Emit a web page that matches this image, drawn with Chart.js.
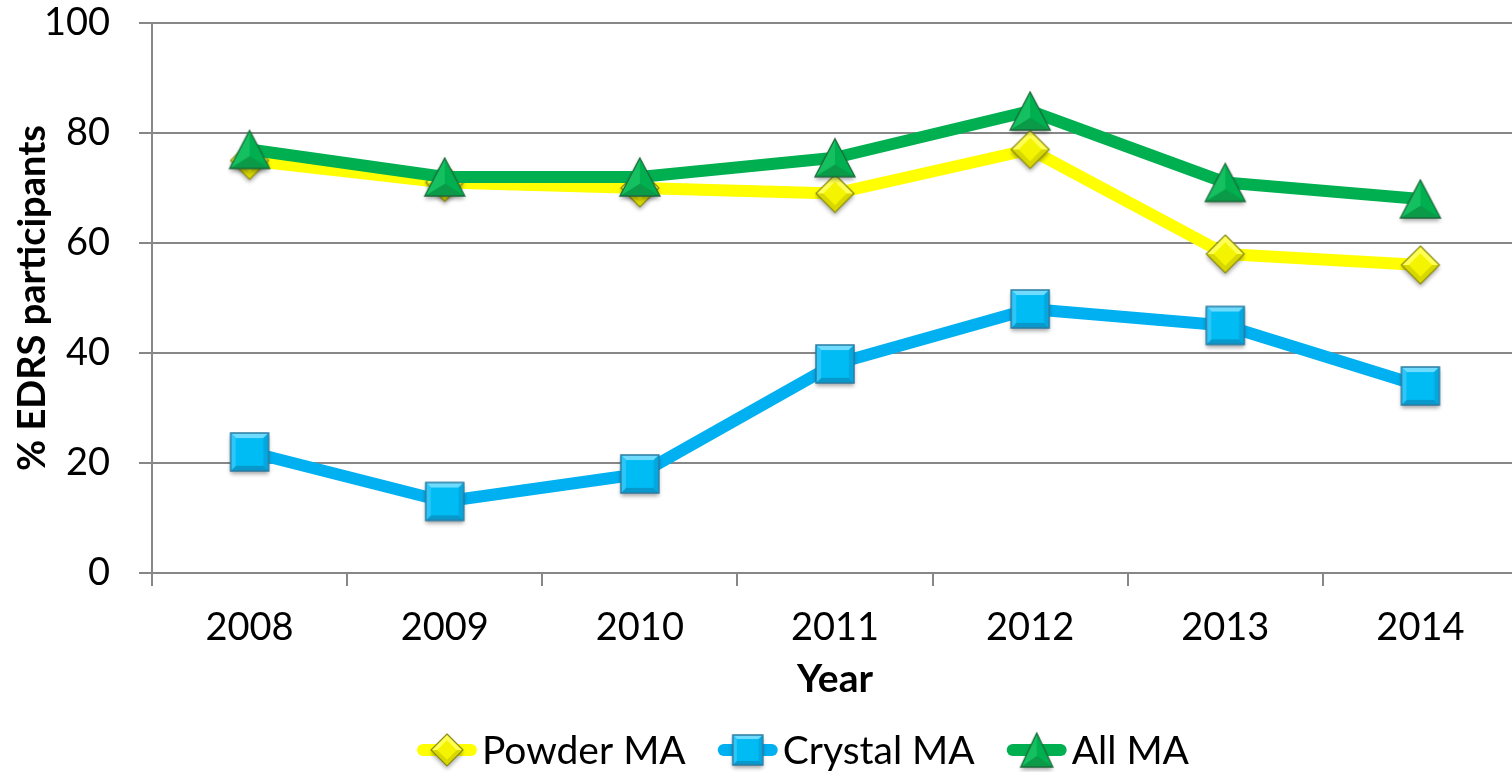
<!DOCTYPE html>
<html>
<head>
<meta charset="utf-8">
<script src="https://cdn.jsdelivr.net/npm/chart.js@4.4.1/dist/chart.umd.min.js"></script>
<style>
  html, body { margin: 0; padding: 0; background: #ffffff; overflow: hidden; }
  #wrap { position: relative; width: 1518px; height: 772px; }
</style>
</head>
<body>
<div id="wrap"><canvas id="c"></canvas></div>
<script>
// ---- data ----
const years = ['2008', '2009', '2010', '2011', '2012', '2013', '2014'];
const powderMA = [75, 71, 70, 69, 77, 58, 56];
const crystalMA = [22, 13, 18, 38, 48, 45, 34];
const allMA = [77, 72, 72, 75.5, 84, 71, 68];
const seriesNames = ['Powder MA', 'Crystal MA', 'All MA'];
const yTickValues = [0, 20, 40, 60, 80, 100];
const xAxisTitle = 'Year';
const yAxisTitle = '% EDRS participants';

// ---- marker images ----
function mk(w, h) { const c = document.createElement('canvas'); c.width = w; c.height = h; return c; }
function shadowOn(ctx) { ctx.shadowColor = 'rgba(0,0,0,0.35)'; ctx.shadowBlur = 4; ctx.shadowOffsetY = 3; }
function shadowOff(ctx) { ctx.shadowColor = 'transparent'; ctx.shadowBlur = 0; ctx.shadowOffsetY = 0; }

function makeDiamond(r) {
  const S = Math.ceil(2 * r + 14), c = mk(S, S), ctx = c.getContext('2d'), cx = S / 2, cy = S / 2;
  const path = (k) => { ctx.beginPath(); ctx.moveTo(cx, cy - r * k); ctx.lineTo(cx + r * k, cy); ctx.lineTo(cx, cy + r * k); ctx.lineTo(cx - r * k, cy); ctx.closePath(); };
  shadowOn(ctx); path(1); ctx.fillStyle = '#ffff00'; ctx.fill(); shadowOff(ctx);
  ctx.beginPath(); ctx.moveTo(cx - r, cy); ctx.lineTo(cx, cy + r); ctx.lineTo(cx + r, cy); ctx.lineTo(cx + r * 0.6, cy); ctx.lineTo(cx, cy + r * 0.6); ctx.lineTo(cx - r * 0.6, cy); ctx.closePath();
  ctx.fillStyle = '#d8d800'; ctx.fill();
  ctx.beginPath(); ctx.moveTo(cx - r, cy); ctx.lineTo(cx, cy - r); ctx.lineTo(cx + r, cy); ctx.lineTo(cx + r * 0.6, cy); ctx.lineTo(cx, cy - r * 0.6); ctx.lineTo(cx - r * 0.6, cy); ctx.closePath();
  ctx.fillStyle = '#ffff55'; ctx.fill();
  path(0.6); ctx.fillStyle = '#f4f400'; ctx.fill();
  path(1); ctx.lineWidth = 1.2; ctx.strokeStyle = '#8a8a10'; ctx.stroke();
  return c;
}
function makeSquare(h) {
  const S = Math.ceil(2 * h + 14), c = mk(S, S), ctx = c.getContext('2d'), cx = S / 2, cy = S / 2;
  shadowOn(ctx); ctx.fillStyle = '#00b8f0'; ctx.fillRect(cx - h, cy - h, 2 * h, 2 * h); shadowOff(ctx);
  const i = h * 0.72;
  const quad = (pts, col) => { ctx.beginPath(); ctx.moveTo(pts[0][0], pts[0][1]); for (let k = 1; k < pts.length; k++) ctx.lineTo(pts[k][0], pts[k][1]); ctx.closePath(); ctx.fillStyle = col; ctx.fill(); };
  quad([[cx - h, cy - h], [cx + h, cy - h], [cx + i, cy - i], [cx - i, cy - i]], '#6fdcff');
  quad([[cx - h, cy + h], [cx + h, cy + h], [cx + i, cy + i], [cx - i, cy + i]], '#0898cc');
  quad([[cx - h, cy - h], [cx - h, cy + h], [cx - i, cy + i], [cx - i, cy - i]], '#2cc6f8');
  quad([[cx + h, cy - h], [cx + h, cy + h], [cx + i, cy + i], [cx + i, cy - i]], '#04a8e0');
  ctx.fillStyle = '#00bcf4'; ctx.fillRect(cx - i, cy - i, 2 * i, 2 * i);
  ctx.lineWidth = 1.5; ctx.strokeStyle = '#2a7ca2'; ctx.strokeRect(cx - h, cy - h, 2 * h, 2 * h);
  return c;
}
function makeTriangle(hw, hh) {
  const W = Math.ceil(2 * hw + 14), H = Math.ceil(2 * hh + 14), c = mk(W, H), ctx = c.getContext('2d'), cx = W / 2, cy = H / 2;
  const tri = () => { ctx.beginPath(); ctx.moveTo(cx, cy - hh); ctx.lineTo(cx + hw, cy + hh); ctx.lineTo(cx - hw, cy + hh); ctx.closePath(); };
  shadowOn(ctx); tri(); ctx.fillStyle = '#00b050'; ctx.fill(); shadowOff(ctx);
  const gx = cx, gy = cy + hh * 0.35;
  ctx.beginPath(); ctx.moveTo(cx - hw, cy + hh); ctx.lineTo(cx + hw, cy + hh); ctx.lineTo(gx, gy); ctx.closePath();
  ctx.fillStyle = '#0a9a48'; ctx.fill();
  ctx.beginPath(); ctx.moveTo(cx, cy - hh); ctx.lineTo(cx - hw, cy + hh); ctx.lineTo(gx, gy); ctx.closePath();
  ctx.fillStyle = '#14c060'; ctx.fill();
  tri(); ctx.lineWidth = 1.3; ctx.strokeStyle = '#1b6b3a'; ctx.stroke();
  return c;
}
const imgDiamond = makeDiamond(19);
const imgSquare = makeSquare(19);
const imgTriangle = makeTriangle(20, 19);
const lgDiamond = makeDiamond(16);
const lgSquare = makeSquare(15);
const lgTriangle = makeTriangle(16, 17);

const colors = ['#ffff00', '#00b0f0', '#00b050'];
const legendImgs = [lgDiamond, lgSquare, lgTriangle];

// ---- custom legend (line + marker + text) ----
const lineLegend = {
  id: 'lineLegend',
  afterDraw(chart) {
    const ctx = chart.ctx;
    ctx.save();
    ctx.font = '39px Lato';
    const lineW = 60, gapT = 5, gapItem = 32;
    const widths = seriesNames.map(n => lineW + gapT + ctx.measureText(n).width);
    const total = widths.reduce((a, b) => a + b, 0) + gapItem * (seriesNames.length - 1);
    let x = 803 - total / 2;
    const y = 750;
    seriesNames.forEach((name, i) => {
      ctx.beginPath();
      ctx.moveTo(x + 6, y); ctx.lineTo(x + lineW - 6, y);
      ctx.lineWidth = 12; ctx.lineCap = 'round'; ctx.strokeStyle = colors[i]; ctx.stroke();
      const im = legendImgs[i];
      ctx.drawImage(im, x + lineW / 2 - im.width / 2, y - im.height / 2);
      ctx.fillStyle = '#000'; ctx.textBaseline = 'middle'; ctx.textAlign = 'left';
      ctx.fillText(name, x + lineW + gapT, y + 1);
      x += widths[i] + gapItem;
    });
    ctx.restore();
  }
};

Chart.defaults.font.family = 'Lato, "Open Sans", sans-serif';
Chart.defaults.color = '#000';

new Chart(document.getElementById('c'), {
  type: 'line',
  data: {
    labels: years,
    datasets: [
      { label: seriesNames[0], data: powderMA, borderColor: colors[0], backgroundColor: colors[0], borderWidth: 12, pointStyle: imgDiamond, pointRadius: 20, order: 2, borderJoinStyle: 'round', tension: 0 },
      { label: seriesNames[1], data: crystalMA, borderColor: colors[1], backgroundColor: colors[1], borderWidth: 12, pointStyle: imgSquare, pointRadius: 20, order: 1, borderJoinStyle: 'round', tension: 0 },
      { label: seriesNames[2], data: allMA, borderColor: colors[2], backgroundColor: colors[2], borderWidth: 12, pointStyle: imgTriangle, pointRadius: 20, order: 0, borderJoinStyle: 'round', tension: 0 }
    ]
  },
  options: {
    responsive: true,
    maintainAspectRatio: false,
    animation: false,
    devicePixelRatio: 1,
    layout: { autoPadding: false, padding: { top: 23, right: 0, bottom: 69, left: 0 } },
    plugins: { legend: { display: false }, tooltip: { enabled: false } },
    scales: {
      x: {
        type: 'category',
        offset: true,
        grid: { offset: true, drawOnChartArea: false, drawTicks: true, tickLength: 13, color: '#878787', lineWidth: 2 },
        border: { display: true, color: '#878787', width: 2 },
        ticks: { color: '#000', font: { size: 38 }, padding: 19, maxRotation: 0 },
        title: { display: true, text: xAxisTitle, color: '#000', font: { size: 39, weight: 'bold' }, padding: { top: 0, bottom: 0 } },
        afterFit(s) { s.height = 130; s.paddingLeft = 0; s.paddingRight = 0; }
      },
      y: {
        min: 0, max: 100,
        afterBuildTicks(s) { s.ticks = yTickValues.map(v => ({ value: v })); },
        ticks: { color: '#000', font: { size: 38 }, padding: 29 },
        grid: { color: '#878787', lineWidth: 2, tickLength: 13, drawTicks: true },
        border: { display: true, color: '#878787', width: 2 },
        title: { display: true, text: yAxisTitle, color: '#000', font: { size: 38, weight: 'bold' }, padding: { top: 10, bottom: 0 } },
        afterFit(s) { s.width = 152; s.paddingTop = 0; s.paddingBottom = 0; }
      }
    }
  },
  plugins: [lineLegend]
});
</script>
</body>
</html>
